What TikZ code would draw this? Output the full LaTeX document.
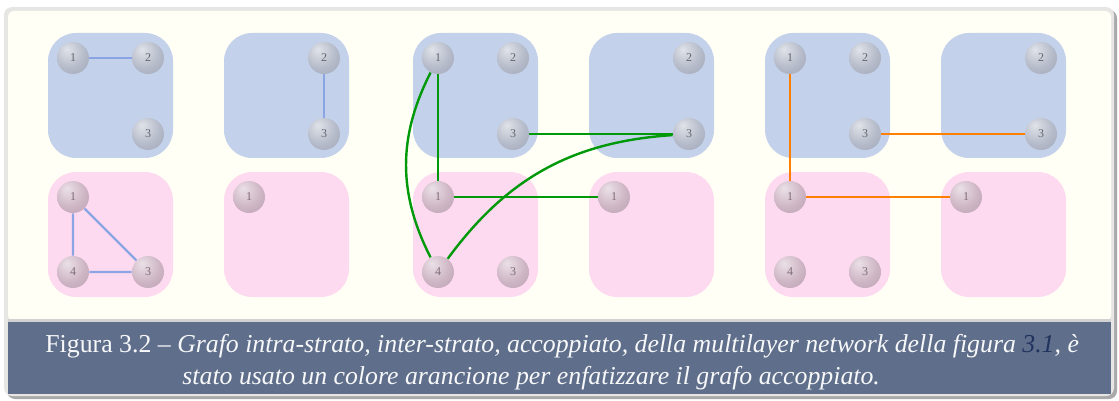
\documentclass[tikz,border=0pt]{standalone}
\usepackage{fontspec}
\setmainfont{Liberation Serif}
\usetikzlibrary{positioning}
\definecolor{pageivory}{HTML}{FFFFF5}
\definecolor{framegray}{HTML}{E6E6E4}
\definecolor{shadowgray}{HTML}{A9A9A9}
\definecolor{capblue}{HTML}{5F6E8A}
\definecolor{capnavy}{HTML}{1F335E}
\definecolor{topfill}{HTML}{C3D1EB}
\definecolor{botfill}{HTML}{FEDAF1}
\definecolor{topball}{HTML}{A7AEBF}
\definecolor{botball}{HTML}{C5A8BA}
\definecolor{intrablue}{HTML}{8AA4E4}
\definecolor{intergreen}{HTML}{00990A}
\definecolor{coupleorange}{HTML}{FF7F00}
\pgfdeclareradialshading{topshade}{\pgfpoint{-10bp}{14bp}}{color(0bp)=(white!65!topball); color(25bp)=(white!15!topball); color(50bp)=(black!8!topball); color(70bp)=(black!15!topball)}
\pgfdeclareradialshading{botshade}{\pgfpoint{-10bp}{14bp}}{color(0bp)=(white!65!botball); color(25bp)=(white!15!botball); color(50bp)=(black!8!botball); color(70bp)=(black!15!botball)}

\begin{document}
\begin{tikzpicture}[x=0.5pt, y=-0.5pt,
    panel/.style={rounded corners=14pt},
    nodeball/.style={circle, minimum size=16pt, inner sep=0pt, font=\fontsize{6}{7}\selectfont},
    upball/.style={nodeball, shading=topshade, text=black!40!topball},
    lowball/.style={nodeball, shading=botshade, text=black!35!botball},
    intra/.style={intrablue, line width=1.2pt},
    inter/.style={intergreen, line width=1.2pt},
    coupled/.style={coupleorange, line width=1.2pt},
    captext/.style={text=white!95!capblue, font=\fontsize{12.9}{15}\selectfont, inner sep=0pt}]
  \useasboundingbox (0,0) rectangle (1119,401);
  % frame and caption band
  \fill[shadowgray, rounded corners=4pt] (7,10) rectangle (1117,399);
  \fill[framegray, rounded corners=4pt] (4,7) rectangle (1114,396);
  \fill[pageivory, rounded corners=3pt] (8,11) rectangle (1111,321);
  \fill[gray!35] (8,319) rectangle (1111,322);
  \fill[capblue] (8,322) rectangle (1111,394);
  % layers with all nodes
  \foreach \p/\x in {a/48,c/413,e/765} {
    \fill[topfill, panel] (\x,33) rectangle ++(125,125);
    \fill[botfill, panel] (\x,172) rectangle ++(125,125);
    \node[upball] (\p t1) at (\x+25,58) {1};
    \node[upball] (\p t2) at (\x+100,58) {2};
    \node[upball] (\p t3) at (\x+100,134) {3};
    \node[lowball] (\p b1) at (\x+25,197) {1};
    \node[lowball] (\p b4) at (\x+25,272) {4};
    \node[lowball] (\p b3) at (\x+100,272) {3};
  }
  % layers with fewer nodes
  \foreach \p/\x in {b/224,d/589,f/941} {
    \fill[topfill, panel] (\x,33) rectangle ++(125,125);
    \fill[botfill, panel] (\x,172) rectangle ++(125,125);
    \node[upball] (\p t2) at (\x+100,58) {2};
    \node[upball] (\p t3) at (\x+100,134) {3};
    \node[lowball] (\p b1) at (\x+25,197) {1};
  }
  % intra-layer graph
  \draw[intra] (at1) -- (at2);
  \draw[intra] (ab1) -- (ab4) -- (ab3) -- (ab1);
  \draw[intra] (bt2) -- (bt3);
  % inter-layer graph
  \draw[inter] (ct1) -- (cb1);
  \draw[inter] (ct1) to[bend right=27] (cb4);
  \draw[inter] (ct3) -- (dt3);
  \draw[inter] (dt3) to[bend right=25] (cb4);
  \draw[inter] (cb1) -- (db1);
  % coupled graph
  \draw[coupled] (et1) -- (eb1);
  \draw[coupled] (et3) -- (ft3);
  \draw[coupled] (eb1) -- (fb1);
  % caption
  \node[captext, anchor=base west] (capline1) at (45,352) {Figura 3.2 -- \itshape Grafo intra-strato, inter-strato, accoppiato, della multilayer network della figura \textcolor{capnavy}{3.1}, è};
  \node[captext, anchor=base west] (capline2) at (182,384) {\itshape stato usato un colore arancione per enfatizzare il grafo accoppiato.};
\end{tikzpicture}
\end{document}
